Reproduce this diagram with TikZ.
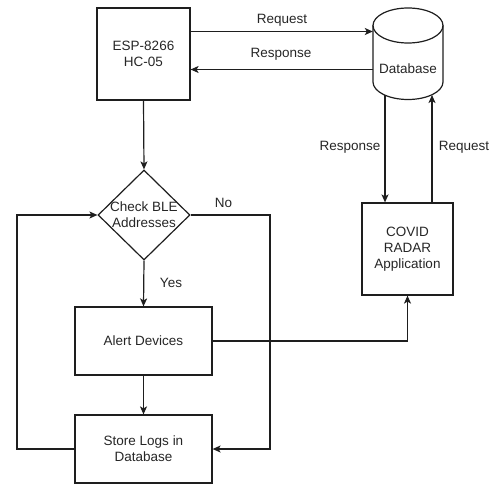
\documentclass[tikz,border=0pt]{standalone}
\usepackage{fontspec}
\setmainfont{Liberation Sans}
\usetikzlibrary{shapes.geometric,arrows.meta}
\definecolor{ink}{HTML}{1E1E1E}
\definecolor{txt}{HTML}{262626}
\begin{document}
\begin{tikzpicture}[x=1pt,y=-1pt,
  every node/.style={text=txt,font=\fontsize{13.5}{16}\selectfont,align=center},
  box/.style={draw=ink,line width=1.2pt,rectangle,inner sep=0pt},
  decision/.style={draw=ink,line width=1.2pt,diamond,inner sep=0pt,minimum width=92pt,minimum height=90pt},
  wire/.style={draw=ink,line width=1.2pt},
  arr/.style={wire,-{Stealth[length=8pt,width=7pt,inset=2pt]}},
  lbl/.style={inner sep=0pt}]
\useasboundingbox (0,0) rectangle (493,484);

% process boxes
\node[box,minimum width=93pt,minimum height=92pt] (esp) at (143.5,54) {ESP-8266\\HC-05};
\node[decision] (chk) at (144,215) {};
\node[lbl] (chktext) at (chk.center) {Check BLE\\Addresses};
\node[box,minimum width=137pt,minimum height=68pt] (alert) at (143.5,341) {Alert Devices};
\node[box,minimum width=137pt,minimum height=68pt] (store) at (143.5,449) {Store Logs in\\Database};
\node[box,minimum width=91pt,minimum height=92pt] (cov) at (407.5,249) {COVID\\RADAR\\Application};

% database cylinder
\node[minimum width=70pt,minimum height=91pt,inner sep=0pt] (db) at (408,53.5) {};
\draw[ink,line width=1.2pt] (408,25.5) ellipse [x radius=35pt, y radius=17.5pt];
\draw[ink,line width=1.2pt] (373,25.5) -- (373,82)
  arc[start angle=180,end angle=360,x radius=35pt,y radius=17.5pt] -- (443,25.5);
\node[lbl] (dbtext) at (408,69) {Database};

% anchor points on the database side
\coordinate (reqA) at ([yshift=22.5pt]esp.east);
\coordinate (resA) at ([yshift=-15.5pt]esp.east);
\coordinate (dbRes) at (385,95);
\coordinate (dbReq) at (432,95);

% ESP <-> database
\draw[arr] (reqA) -- (reqA -| db.west);
\draw[arr] (resA -| db.west) -- (resA);
\node[lbl] (lreq1) at (282,20) {Request};
\node[lbl] (lres1) at (281,54) {Response};

% database <-> application
\draw[arr] (dbRes) -- (dbRes |- cov.north);
\draw[arr] (dbReq |- cov.north) -- (dbReq);
\node[lbl] (lres2) at (350,147) {Response};
\node[lbl] (lreq2) at (464,147) {Request};

% main flow
\draw[arr] (esp.south) -- (chk.north);
\draw[arr] (chk.south) -- (alert.north);
\node[lbl] (lyes) at (171,283) {Yes};
\draw[arr] (alert.south) -- (store.north);
\draw[arr] (store.west) -- (17,449) -- (17,215) -- (chk.west);
\draw[arr] (chk.east) -- (270,215) -- (270,449) -- (store.east);
\node[lbl] (lno) at (223.5,203) {No};
\draw[arr] (alert.east) -- (cov.south |- alert.east) -- (cov.south);
\end{tikzpicture}
\end{document}
